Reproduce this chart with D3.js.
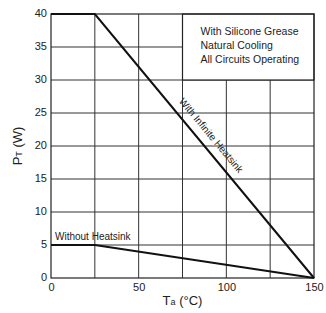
<!DOCTYPE html>
<html>
<head>
<meta charset="utf-8">
<script src="https://cdn.jsdelivr.net/npm/d3@7"></script>
<style>
body { margin: 0; background: #fff; }
text { font-family: "Liberation Sans", Arial, sans-serif; fill: #222; }
</style>
</head>
<body>
<div class="chart"></div>
<script>
var svgWidth = 326;
var svgHeight = 313;

var margin = { top: 14, right: 12, bottom: 35, left: 51 };
var width = 263;
var height = 264;

// data
var xTicks = [0, 50, 100, 150];
var yTicks = [0, 5, 10, 15, 20, 25, 30, 35, 40];
var xGrid = [25, 50, 75, 100, 125];
var infiniteTa = [0, 25, 150];
var infinitePt = [40, 40, 0];
var noSinkTa = [0, 25, 150];
var noSinkPt = [5, 5, 0];
var noteLines = ["With Silicone Grease", "Natural Cooling", "All Circuits Operating"];

var svg = d3.select(".chart").append("svg")
  .attr("width", svgWidth)
  .attr("height", svgHeight);

var chartGroup = svg.append("g")
  .attr("transform", `translate(${margin.left}, ${margin.top})`);

var x = d3.scaleLinear().domain([0, 150]).range([0, width]);
var y = d3.scaleLinear().domain([0, 40]).range([height, 0]);

// grid
chartGroup.selectAll(".vgrid").data(xGrid).enter().append("line")
  .attr("x1", d => x(d)).attr("x2", d => x(d))
  .attr("y1", 0).attr("y2", height)
  .attr("stroke", "#333").attr("stroke-width", 1);

chartGroup.selectAll(".hgrid").data(yTicks.slice(1, -1)).enter().append("line")
  .attr("x1", 0).attr("x2", width)
  .attr("y1", d => y(d)).attr("y2", d => y(d))
  .attr("stroke", "#333").attr("stroke-width", 1);

// note box (covers grid)
chartGroup.append("rect")
  .attr("x", x(75)).attr("y", y(40))
  .attr("width", x(150) - x(75)).attr("height", y(30) - y(40))
  .attr("fill", "#fff").attr("stroke", "#222").attr("stroke-width", 1.2);

chartGroup.selectAll(".note").data(noteLines).enter().append("text")
  .attr("x", x(75) + 18)
  .attr("y", (d, i) => 21 + i * 14)
  .attr("font-size", "10.5px")
  .text(d => d);

// frame
chartGroup.append("rect")
  .attr("x", 0).attr("y", 0).attr("width", width).attr("height", height)
  .attr("fill", "none").attr("stroke", "#222").attr("stroke-width", 1.2);

// axes
var bottomAxis = d3.axisBottom(x).tickValues(xTicks).tickSize(0).tickPadding(5);
var leftAxis = d3.axisLeft(y).tickValues(yTicks).tickSize(0).tickPadding(4);

var xAxis = chartGroup.append("g")
  .attr("transform", `translate(0, ${height})`)
  .call(bottomAxis);
var yAxis = chartGroup.append("g").call(leftAxis);

[xAxis, yAxis].forEach(function(a) {
  a.select(".domain").remove();
  a.selectAll("text").attr("font-size", "11px")
    .attr("font-family", "Liberation Sans, Arial, sans-serif").attr("fill", "#222");
});
yAxis.selectAll("text").attr("dy", "0.25em");

// curves
var line = d3.line().x(d => x(d[0])).y(d => y(d[1]));

chartGroup.append("path")
  .datum(d3.zip(infiniteTa, infinitePt))
  .attr("d", line)
  .attr("fill", "none").attr("stroke", "#111").attr("stroke-width", 2);

chartGroup.append("path")
  .datum(d3.zip(noSinkTa, noSinkPt))
  .attr("d", line)
  .attr("fill", "none").attr("stroke", "#111").attr("stroke-width", 2);

// curve labels
var angle = Math.atan2(y(0) - y(40), x(150) - x(25)) * 180 / Math.PI;
var lx = x(25) + (x(150) - x(25)) * 0.35 + 7;
var ly = y(40) + (y(0) - y(40)) * 0.35 - 5;
chartGroup.append("text")
  .attr("transform", `translate(${lx}, ${ly}) rotate(${angle})`)
  .attr("font-size", "10px")
  .text("With Infinite Heatsink");

chartGroup.append("text")
  .attr("x", 4).attr("y", y(5) - 5)
  .attr("font-size", "10px")
  .text("Without Heatsink");

// axis titles
var xTitle = svg.append("text")
  .attr("x", margin.left + width / 2)
  .attr("y", 305)
  .attr("text-anchor", "middle")
  .attr("font-size", "13px");
xTitle.append("tspan").text("T");
xTitle.append("tspan").attr("font-size", "9px").text("a");
xTitle.append("tspan").text("  (°C)");

var yTitle = svg.append("text")
  .attr("transform", `translate(22, ${margin.top + height / 2}) rotate(-90)`)
  .attr("text-anchor", "middle")
  .attr("font-size", "13px");
yTitle.append("tspan").text("P");
yTitle.append("tspan").attr("font-size", "9px").text("T");
yTitle.append("tspan").text("  (W)");
</script>
</body>
</html>
